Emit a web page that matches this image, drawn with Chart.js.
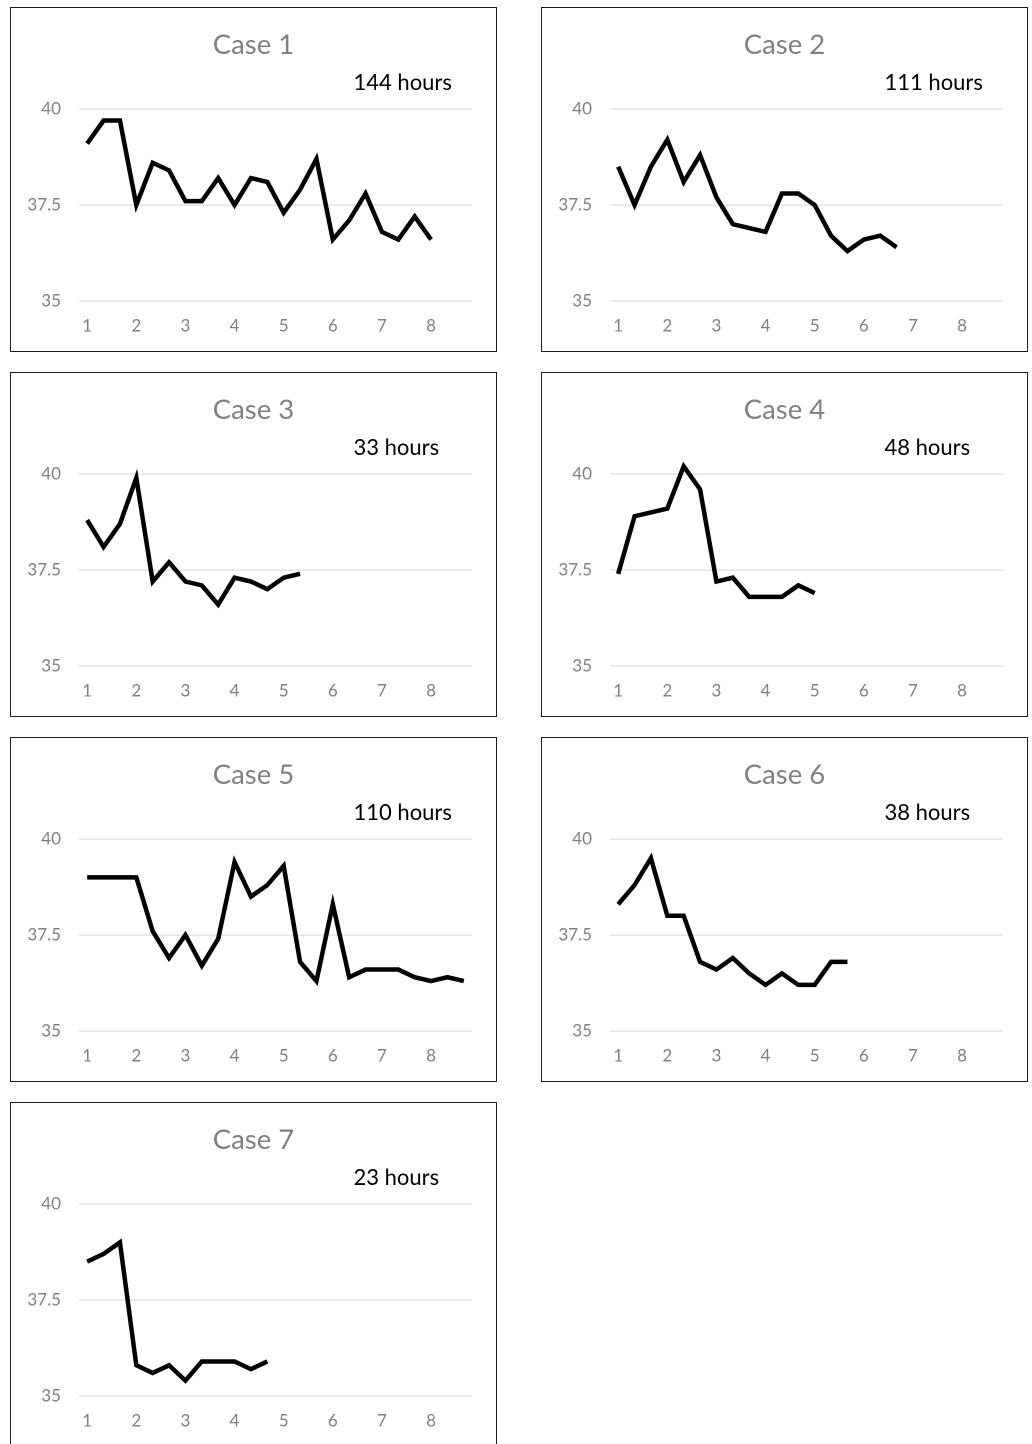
<!DOCTYPE html>
<html>
<head>
<meta charset="utf-8">
<script src="https://cdn.jsdelivr.net/npm/chart.js@4.4.1/dist/chart.umd.min.js"></script>
<style>
  html, body { margin: 0; padding: 0; background: #fff; }
  body { width: 1032px; height: 1444px; position: relative; overflow: hidden; font-family: Lato, sans-serif; }
  .box { position: absolute; width: 487px; height: 345px; }
  .box .frame { position: absolute; left: 0; top: 0; right: 0; bottom: 0; border: 1.5px solid #1e1e1e; pointer-events: none; z-index: 2; }
  .box .cw { position: absolute; left: 0; top: 0; width: 487px; height: 345px; }
</style>
</head>
<body>
<script>
// ---- data ----
const xLabels = ['1','','','2','','','3','','','4','','','5','','','6','','','7','','','8','',''];
const caseTitles = ['Case 1','Case 2','Case 3','Case 4','Case 5','Case 6','Case 7'];
const durations = ['144 hours','111 hours','33 hours','48 hours','110 hours','38 hours','23 hours'];
const yTicks = [35, 37.5, 40];

const case1 = [39.1,39.7,39.7,37.5,38.6,38.4,37.6,37.6,38.2,37.5,38.2,38.1,37.3,37.9,38.7,36.6,37.1,37.8,36.8,36.6,37.2,36.6];
const case2 = [38.5,37.5,38.5,39.2,38.1,38.8,37.7,37.0,36.9,36.8,37.8,37.8,37.5,36.7,36.3,36.6,36.7,36.4];
const case3 = [38.8,38.1,38.7,39.9,37.2,37.7,37.2,37.1,36.6,37.3,37.2,37.0,37.3,37.4];
const case4 = [37.4,38.9,39.0,39.1,40.2,39.6,37.2,37.3,36.8,36.8,36.8,37.1,36.9];
const case5 = [39.0,39.0,39.0,39.0,37.6,36.9,37.5,36.7,37.4,39.4,38.5,38.8,39.3,36.8,36.3,38.3,36.4,36.6,36.6,36.6,36.4,36.3,36.4,36.3];
const case6 = [38.3,38.8,39.5,38.0,38.0,36.8,36.6,36.9,36.5,36.2,36.5,36.2,36.2,36.8,36.8];
const case7 = [38.5,38.7,39.0,35.8,35.6,35.8,35.4,35.9,35.9,35.9,35.7,35.9];

const series = [case1, case2, case3, case4, case5, case6, case7];

// ---- layout ----
const boxLefts = [10, 541];
const boxTops = [7, 372, 737, 1102];
const GRAY = '#808080';

const textPlugin = {
  id: 'caseText',
  afterDraw(chart, args, opts) {
    const ctx = chart.ctx;
    ctx.save();
    ctx.textBaseline = 'middle';
    ctx.fillStyle = GRAY;
    ctx.font = '27.5px Lato';
    ctx.textAlign = 'center';
    ctx.fillText(opts.title, 243.5, 38);
    ctx.fillStyle = '#000';
    ctx.font = '22px Lato';
    ctx.textAlign = 'left';
    ctx.fillText(opts.note, 343.5, 76);
    ctx.restore();
  }
};

series.forEach((vals, i) => {
  const box = document.createElement('div');
  box.className = 'box';
  box.style.left = boxLefts[i % 2] + 'px';
  box.style.top = boxTops[Math.floor(i / 2)] + 'px';
  const cw = document.createElement('div');
  cw.className = 'cw';
  const cv = document.createElement('canvas');
  cw.appendChild(cv);
  const frame = document.createElement('div');
  frame.className = 'frame';
  box.appendChild(cw);
  box.appendChild(frame);
  document.body.appendChild(box);

  new Chart(cv, {
    type: 'line',
    data: {
      labels: xLabels,
      datasets: [{
        data: vals,
        borderColor: '#000',
        borderWidth: 4.5,
        pointRadius: 0,
        tension: 0,
        borderJoinStyle: 'miter',
        clip: 20
      }]
    },
    options: {
      responsive: true,
      maintainAspectRatio: false,
      animation: false,
      devicePixelRatio: 2,
      layout: { padding: { top: 102, right: 25, bottom: 0, left: 0 } },
      plugins: {
        legend: { display: false },
        title: { display: false },
        tooltip: { enabled: false },
        caseText: { title: caseTitles[i], note: durations[i] }
      },
      scales: {
        x: {
          type: 'category',
          offset: true,
          grid: { display: false, drawTicks: false },
          border: { display: false },
          ticks: { autoSkip: false, maxRotation: 0, color: GRAY, font: { family: 'Lato', size: 17 }, padding: 15 },
          afterFit(scale) { scale.height = 51; }
        },
        y: {
          min: 35, max: 40,
          afterBuildTicks(scale) { scale.ticks = yTicks.map(v => ({ value: v })); },
          grid: { color: '#dedede', lineWidth: 1.3, drawTicks: false },
          border: { display: false },
          ticks: { color: GRAY, font: { family: 'Lato', size: 17 }, padding: 18 },
          afterFit(scale) { scale.width = 69; }
        }
      }
    },
    plugins: [textPlugin]
  });
});
</script>
</body>
</html>
